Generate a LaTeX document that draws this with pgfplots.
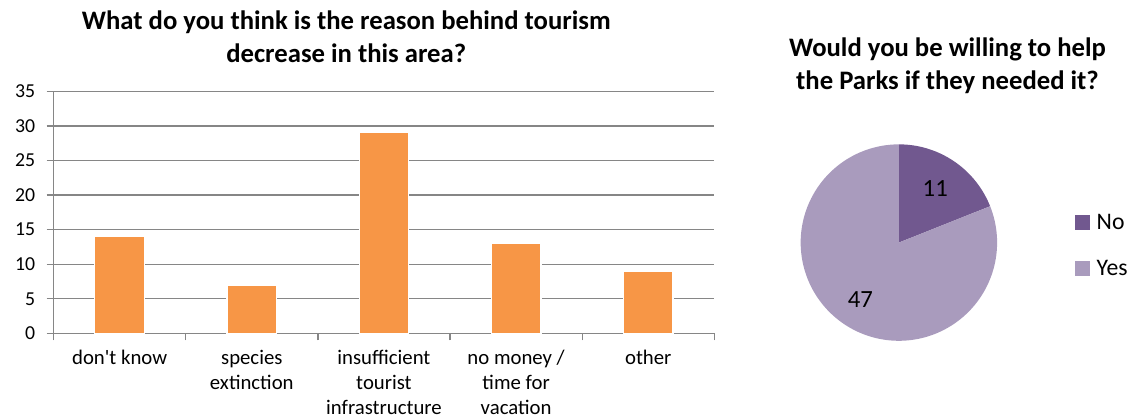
\documentclass[border=0pt]{standalone}
\usepackage{fontspec}
\setmainfont{Carlito}[Ligatures=TeXOff]
\usepackage{pgfplots}
\usepackage{pgfplotstable}
\pgfplotsset{compat=1.18}
\definecolor{barorange}{HTML}{F79646}
\definecolor{gridgray}{HTML}{868686}
\definecolor{pieNo}{HTML}{71588F}
\definecolor{pieYes}{HTML}{A99BBD}

\pgfplotstableread{
idx value
0 14
1 7
2 29
3 13
4 9
}\bardata

\pgfplotstableread{
label value
No 11
Yes 47
}\piedata

\begin{document}
\pgfplotstablegetelem{0}{value}\of\piedata \let\vNo=\pgfplotsretval
\pgfplotstablegetelem{1}{value}\of\piedata \let\vYes=\pgfplotsretval
\pgfmathsetmacro\aNo{360*\vNo/(\vNo+\vYes)}
\pgfmathsetmacro\aEnd{90-\aNo}
\pgfmathsetmacro\mNo{(90+\aEnd)/2}
\pgfmathsetmacro\mYes{(\aEnd-270)/2}
\begin{tikzpicture}[x=1bp,y=1bp]
\path[use as bounding box] (0bp,0bp) rectangle (1136bp,423bp);

\node[align=center, font=\fontsize{27}{33}\selectfont\bfseries] at (340bp,386bp) {What do you think is the reason behind tourism\\decrease in this area?};
\node[align=center, font=\fontsize{27}{33}\selectfont\bfseries] at (946bp,357bp) {Would you be willing to help\\the Parks if they needed it?};

\begin{axis}[
  at={(45bp,87bp)}, anchor=south west,
  scale only axis, width=666bp, height=244bp,
  xmin=-0.5, xmax=4.5, ymin=0, ymax=35,
  ytick={0,5,...,35},
  xtick={-0.5,0.5,...,4.5},
  xticklabels={},
  extra x ticks={0,1,2,3,4},
  extra x tick labels={don't know, species\\extinction, insufficient\\tourist\\infrastructure, no money /\\time for\\vacation, other},
  extra x tick style={major tick length=0pt, grid=none},
  xticklabel style={align=center, font=\fontsize{21}{25.5}\selectfont, anchor=north, yshift=-13bp},
  yticklabel style={font=\fontsize{20}{24}\selectfont, xshift=-8bp},
  /pgf/number format/assume math mode=true,
  major tick length=7bp,
  tick align=outside,
  axis x line*=bottom, axis y line*=left,
  axis line style={gridgray, line width=1.3bp},
  tick style={gridgray, line width=1.3bp},
  ymajorgrids, grid style={gridgray, line width=1.3bp},
  clip=false,
]
\addplot[ybar, bar width=50bp, fill=barorange, draw=white, line width=1.2bp] table[x=idx, y=value] {\bardata};
\end{axis}

\begin{axis}[
  at={(798bp,79.5bp)}, anchor=south west,
  scale only axis, width=198bp, height=198bp,
  xmin=-1, xmax=1, ymin=-1, ymax=1,
  hide axis, clip=false,
  legend style={at={(1.395,0.485)}, anchor=west, draw=none, fill=none, inner sep=0pt,
    font=\fontsize{24}{28}\selectfont, row sep=26bp, cells={anchor=west},
    /tikz/every odd column/.append style={column sep=5bp}},
  legend image code/.code={\fill[#1] (0bp,-7.5bp) rectangle (15bp,7.5bp);},
]
\addplot[fill=pieNo, draw=none, domain=\aEnd:90, samples=90] ({cos(x)},{sin(x)}) -- (axis cs:0,0) -- cycle;
\addlegendentry{No}
\addplot[fill=pieYes, draw=none, domain=-270:\aEnd, samples=200] ({cos(x)},{sin(x)}) -- (axis cs:0,0) -- cycle;
\addlegendentry{Yes}
\node[font=\fontsize{25}{28}\selectfont] at (axis cs:{0.66*cos(\mNo)},{0.66*sin(\mNo)}) {\vNo};
\node[font=\fontsize{25}{28}\selectfont] at (axis cs:{0.7*cos(\mYes)},{0.7*sin(\mYes)}) {\vYes};
\end{axis}
\end{tikzpicture}
\end{document}
